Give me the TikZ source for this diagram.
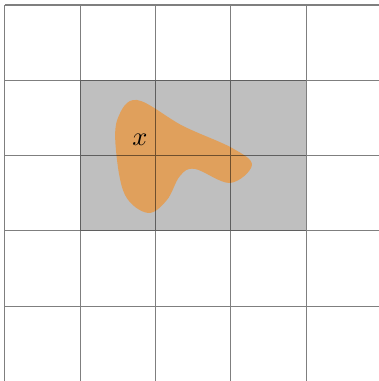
\documentclass[tikz,border=0pt]{standalone}
\usepackage{tikz}
\definecolor{blobfill}{RGB}{224,160,92}
\begin{document}
\begin{tikzpicture}[thin, gridline/.style={draw=black, opacity=0.5}, cellbox/.style={fill=black!25}, region/.style={fill=blobfill}]
            \useasboundingbox (-0.066,0.006) rectangle (4.967,5.066);
            \clip (-0.066,0.006) rectangle (4.967,5.066);
            \fill [cellbox] (1,2) rectangle (4,4);
            \fill [region] plot [smooth cycle, tension=0.6] coordinates {(1.753,3.738) (1.50,3.499) (1.474,3.074) (1.594,2.477) (1.899,2.238) (2.151,2.410) (2.324,2.729) (2.523,2.822) (2.988,2.636) (3.280,2.875) (3.015,3.101) (2.364,3.393)};
            \node (x) at (1.793,3.207) {$x$};
            \draw [gridline] (0,0) grid (5,5);
        \end{tikzpicture}
\end{document}
